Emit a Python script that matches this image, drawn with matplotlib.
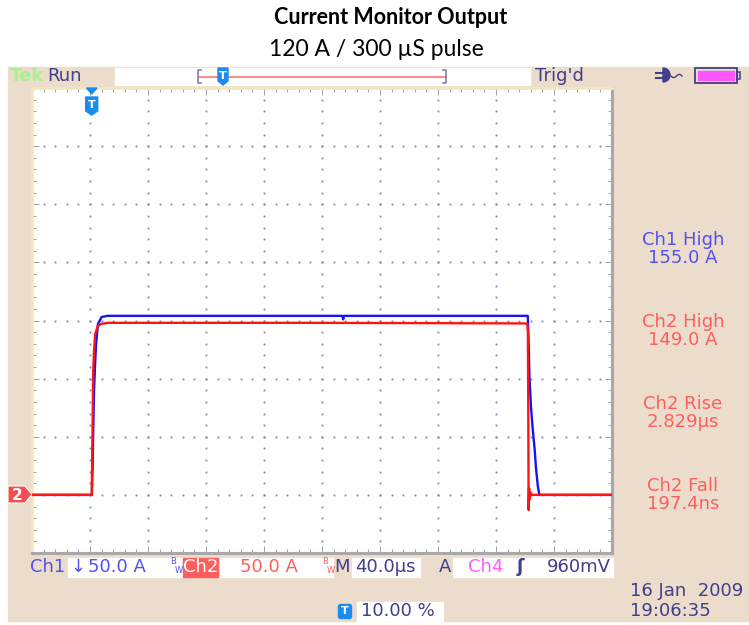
import matplotlib
matplotlib.use('Agg')
import matplotlib.pyplot as plt
import numpy as np
from matplotlib.patches import Rectangle, Polygon, FancyBboxPatch

plt.rcParams['font.family'] = ['DejaVu Sans']

# channel 1 (blue) trace: time in us, current in A
ch1_t = [-40, 1.3, 1.8, 2.3, 2.8, 3.5, 4.2, 5.5, 8.0, 12, 100, 174, 174.6, 175.2,
         250, 301.9, 302.4, 303.1, 304.1, 305.3, 306.6, 307.6, 308.8, 309.9, 360]
ch1_a = [0, 0, 25, 60, 90, 112, 130, 147, 153, 154, 154, 154, 151, 154,
         154, 154, 135, 100, 76, 57, 40, 23, 8, 0, 0]

# channel 2 (red) trace
ch2_t = [-40, 1.2, 1.7, 2.2, 2.7, 3.5, 5.3, 7.5, 12, 150, 300, 301.6, 302.0,
         302.3, 302.5, 302.8, 303.2, 303.8, 305, 360]
ch2_a = [0, 0, 50, 105, 122, 138, 145, 147, 148, 148, 147.5, 147, 140,
         60, -13, 6, -4, 2, 0, 0]

meas_names = ['Ch1 High', 'Ch2 High', 'Ch2 Rise', 'Ch2 Fall']
meas_values = ['155.0 A', '149.0 A', '2.829\u00b5s', '197.4ns']

BEIGE = '#ecdccb'
NAVY = '#3f3f8c'
BLUE_TXT = '#5252f2'
RED_TXT = '#ff5e5e'
PINK = '#ff5cff'
TBLUE = '#1a8cf0'
FS = 13

fig = plt.figure(figsize=(7.49, 6.25), dpi=100)

# background axes in pixel coordinates
ax0 = fig.add_axes([0, 0, 1, 1], zorder=0)
ax0.set_xlim(0, 749)
ax0.set_ylim(625, 0)
ax0.axis('off')

ax0.text(391, 18, 'Current Monitor Output', ha='center', va='center',
         fontsize=15.5, fontweight='bold', family='Lato')
ax0.text(376, 50, '120 A / 300 \u00b5S pulse', ha='center', va='center',
         fontsize=16.5, family='Lato')

ax0.add_patch(Rectangle((8, 67), 741, 554, color=BEIGE, zorder=0))

# top bar
ax0.text(10, 76, 'Tek', color='#a8f090', fontsize=FS, fontweight='bold', va='center')
ax0.text(47, 76, 'Run', color=NAVY, fontsize=FS, va='center')
ax0.add_patch(Rectangle((115, 68), 415, 17, color='white', zorder=1))
ax0.plot([199, 446], [77, 77], color='#ff8080', lw=1.3, zorder=2)
ax0.plot([201, 198, 198, 201], [70, 70, 83, 83], color='#8080a0', lw=1.2, zorder=2)
ax0.plot([443, 446, 446, 443], [70, 70, 83, 83], color='#8080a0', lw=1.2, zorder=2)
ax0.text(535, 76, "Trig'd", color=NAVY, fontsize=FS, va='center')

# plug icon
ax0.plot([656, 663], [72.5, 72.5], color=NAVY, lw=1.5)
ax0.plot([656, 663], [77.5, 77.5], color=NAVY, lw=1.5)
th = np.linspace(-np.pi / 2, np.pi / 2, 20)
ax0.add_patch(Polygon(np.column_stack([663 + 7 * np.cos(th), 75 + 7 * np.sin(th)]),
                      color=NAVY, zorder=3))
wx = np.linspace(671, 682, 20)
ax0.plot(wx, 76 + 1.6 * np.sin((wx - 671) / 11 * 2 * np.pi), color=NAVY, lw=1)

# battery icon
ax0.add_patch(Rectangle((695, 68), 42, 15, fill=False, ec=NAVY, lw=1.3, zorder=3))
ax0.add_patch(Rectangle((698, 71), 36, 9, color='#ff55ff', zorder=3))
ax0.add_patch(Rectangle((737, 72), 3, 7, fill=False, ec=NAVY, lw=1.1, zorder=3))


def t_marker(a, x, top, bottom, w):
    a.add_patch(Polygon([(x - w / 2, top), (x + w / 2, top), (x + w / 2, bottom - 4),
                         (x, bottom), (x - w / 2, bottom - 4)], color=TBLUE, zorder=6))
    a.text(x, (top + bottom) / 2 - 0.5, 'T', color='white', fontsize=8,
           fontweight='bold', ha='center', va='center', zorder=7)


t_marker(ax0, 223, 68, 85, 10)

# measurement panel
for i, (nm, val) in enumerate(zip(meas_names, meas_values)):
    col = BLUE_TXT if nm.startswith('Ch1') else RED_TXT
    ax0.text(683, 240 + 82 * i, nm, color=col, fontsize=FS, ha='center', va='center')
    ax0.text(683, 258 + 82 * i, val, color=col, fontsize=FS, ha='center', va='center')

# bottom bar
ax0.text(30, 567, 'Ch1', color=BLUE_TXT, fontsize=FS, va='center')
ax0.add_patch(Rectangle((68, 558), 114, 19, color='white', zorder=1))
ax0.text(70, 567, '\u2193', color=BLUE_TXT, fontsize=FS, va='center', zorder=2)
ax0.text(88, 567, '50.0 A', color=BLUE_TXT, fontsize=FS, va='center', zorder=2)
ax0.add_patch(Rectangle((183, 558), 35, 19, color='#ff5e5e', zorder=1))
ax0.text(200.5, 567, 'Ch2', color='white', fontsize=FS, ha='center', va='center', zorder=2)
ax0.add_patch(Rectangle((220, 558), 113, 19, color='white', zorder=1))
ax0.text(240, 567, '50.0 A', color=RED_TXT, fontsize=FS, va='center', zorder=2)
for bx, col in [(170, BLUE_TXT), (322, RED_TXT)]:
    ax0.text(bx, 561, 'B', color=col, fontsize=6, va='center', zorder=2)
    ax0.text(bx + 4.8, 570.5, 'W', color=col, fontsize=6, va='center', zorder=2)
ax0.text(334, 567, 'M', color=NAVY, fontsize=FS, va='center')
ax0.add_patch(Rectangle((352, 558), 68, 19, color='white', zorder=1))
ax0.text(355, 567, '40.0\u00b5s', color=NAVY, fontsize=FS, va='center', zorder=2)
ax0.text(439, 567, 'A', color=NAVY, fontsize=FS, va='center')
ax0.add_patch(Rectangle((453, 558), 160, 19, color='white', zorder=1))
ax0.text(468, 567, 'Ch4', color=PINK, fontsize=FS, va='center', zorder=2)
ax0.text(520, 567, '\u0283', color=NAVY, fontsize=FS, ha='center', va='center',
         fontweight='bold', zorder=2)
ax0.text(611, 567, '960mV', color=NAVY, fontsize=FS, ha='right', va='center', zorder=2)

ax0.text(630, 591, '16 Jan  2009', color=NAVY, fontsize=FS, va='center')
ax0.text(630, 611, '19:06:35', color=NAVY, fontsize=FS, va='center')

ax0.add_patch(FancyBboxPatch((339, 605), 12, 13, boxstyle='round,pad=0.5,rounding_size=2',
                             color=TBLUE, zorder=2))
ax0.text(345, 611.5, 'T', color='white', fontsize=8, fontweight='bold',
         ha='center', va='center', zorder=3)
ax0.add_patch(Rectangle((357, 602), 86, 19, color='white', zorder=1))
ax0.text(361, 611, '10.00 %', color=NAVY, fontsize=FS, va='center', zorder=2)

# channel 2 ground marker
ax0.add_patch(Polygon([(8, 486), (25, 486), (32, 494.5), (25, 503), (8, 503)],
                      fc='#f25050', ec='white', lw=0.8, zorder=3))
ax0.text(17, 495, '2', color='white', fontsize=11, fontweight='bold',
         ha='center', va='center', zorder=4)

# scope screen
ax = fig.add_axes([32 / 749, (625 - 553) / 625, 580 / 749, 465 / 625], zorder=5)
ax.set_xlim(-40, 360)
ax.set_ylim(-50, 350)
ax.set_facecolor('white')

xmaj = np.arange(-40, 361, 40)
ymaj = np.arange(-50, 351, 50)
xmin = np.arange(-40, 361, 8)
ymin = np.arange(-50, 351, 10)
dot = dict(ls='none', marker='s', ms=1.3, mew=0, color='#8080a4', zorder=1)
for x in xmaj[1:-1]:
    ax.plot(np.full(len(ymin), x), ymin, **dot)
for y in ymaj[1:-1]:
    ax.plot(xmin, np.full(len(xmin), y), **dot)

ax.set_xticks(xmaj)
ax.set_yticks(ymaj)
ax.set_xticks(xmin, minor=True)
ax.set_yticks(ymin, minor=True)
ax.tick_params(which='both', direction='in', top=True, right=True,
               labelbottom=False, labelleft=False, color='#9090a8', width=0.6)
ax.tick_params(which='major', length=5)
ax.tick_params(which='minor', length=3)
for s in ['left', 'top']:
    ax.spines[s].set_color('#f2e8bc')
    ax.spines[s].set_linewidth(2)
for s in ['right', 'bottom']:
    ax.spines[s].set_color('#a8a8a8')
    ax.spines[s].set_linewidth(2.2)

ax.plot(ch1_t, ch1_a, color='#1414f5', lw=1.7, zorder=3)
ax.plot(ch2_t, ch2_a, color='#ff1414', lw=1.7, zorder=4)

# overlay for the trigger marker inside the screen
ax1 = fig.add_axes([0, 0, 1, 1], zorder=10)
ax1.set_xlim(0, 749)
ax1.set_ylim(625, 0)
ax1.axis('off')
ax1.add_patch(Polygon([(86.5, 88), (97, 88), (91.7, 94)], color=TBLUE, zorder=8))
t_marker(ax1, 91.7, 97, 115, 12)

fig.savefig('out.png', dpi=100)
